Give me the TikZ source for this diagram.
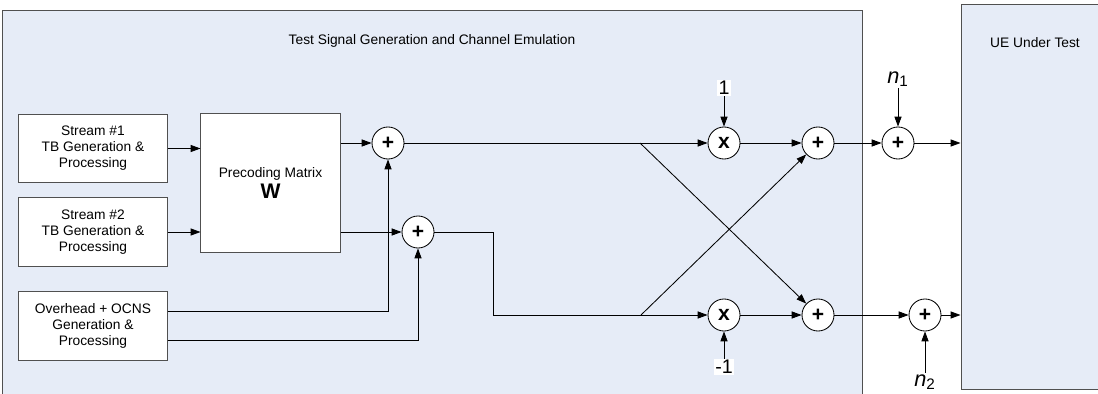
\documentclass[tikz,border=0pt]{standalone}
\usepackage{fontspec}
\setmainfont{Liberation Sans}
\usetikzlibrary{arrows.meta,positioning,calc}
\definecolor{PanelBlue}{HTML}{E6ECF7}
\definecolor{EdgeGray}{HTML}{505050}

\begin{document}
\begin{tikzpicture}[x=0.025cm,y=-0.025cm,
    panel/.style={draw=EdgeGray,line width=0.7pt,fill=PanelBlue},
    blk/.style={draw=EdgeGray,line width=0.7pt,fill=white,align=center,
                font=\fontsize{9.8}{11.3}\selectfont,inner sep=1pt,
                minimum width=3.7cm,minimum height=1.72cm},
    sum/.style={circle,draw=black,line width=0.6pt,fill=white,minimum size=0.8cm,
                inner sep=0pt,font=\fontsize{15}{15}\selectfont\bfseries},
    hdr/.style={font=\fontsize{9.8}{11}\selectfont},
    gain/.style={fill=white,inner sep=1pt,font=\fontsize{14}{15}\selectfont},
    noise/.style={inner sep=1pt,font=\fontsize{15.5}{16}\selectfont},
    arr/.style={-{Triangle[length=7pt,width=5pt]},line width=0.6pt},
  ]
  \useasboundingbox (0,0) rectangle (1098,394);
  \clip (0,0) rectangle (1098,394);
  % Panels
  \node[panel,minimum width=21.475cm,minimum height=9.85cm] (gen) at (432.5,208) {};
  \node[panel,minimum width=3.725cm,minimum height=9.6cm] (ue) at (1035.5,197) {};
  \node[hdr] (gentitle) at (432,41) {Test Signal Generation and Channel Emulation};
  \node[hdr] (uetitle) at (1035,43) {UE Under Test};
  % Sources
  \node[blk] (st1) at (93,148.5) {Stream \#1\\ TB Generation \&\\ Processing};
  \node[blk] (st2) at (93,232) {Stream \#2\\ TB Generation \&\\ Processing};
  \node[blk] (ovh) at (93,326) {Overhead + OCNS\\ Generation \&\\ Processing};
  \node[blk,minimum width=3.475cm,minimum height=3.45cm] (pre) at (270.5,183)
      {Precoding Matrix\\[1pt] {\fontsize{15}{15}\selectfont\bfseries W}};
  % Adders and multipliers
  \node[sum] (s1) at (388,143) {+};
  \node[sum] (s2) at (418,232) {+};
  \node[sum] (m1) at (724,143) {x};
  \node[sum] (m2) at (724,315) {x};
  \node[sum] (s3) at (818,143) {+};
  \node[sum] (s4) at (818,315) {+};
  \node[sum] (s5) at (898,143) {+};
  \node[sum] (s6) at (925,315) {+};
  \node[gain] (g1) at (724,88) {1};
  \node[gain] (g2) at (724,367) {-1};
  \node[noise] (n1) at (898,79) {\textit{n}\textsubscript{1}};
  \node[noise] (n2) at (925,382) {\textit{n}\textsubscript{2}};
  \coordinate (kink) at (493,232);
  \coordinate (xa) at (640,143);
  \coordinate (xb) at (641,315);

  \draw[arr] (st1) -- (st1 -| pre.west);
  \draw[arr] (st2) -- (st2 -| pre.west);
  \draw[arr] (pre.east |- s1) -- (s1);
  \draw[arr] (pre.east |- s2) -- (s2);
  \draw[arr] ($(ovh.east)+(0,-15)$) -| (s1.south);
  \draw[arr] ($(ovh.east)+(0,14)$) -| (s2.south);
  \draw[arr] (s2) -- (kink) |- (m2);
  \draw[arr] (s1) -- (m1);
  \draw[arr] (xa) -- (s4);
  \draw[arr] (xb) -- (s3);
  \draw[arr] (g1) -- (m1);
  \draw[arr] (g2) -- (m2);
  \draw[arr] (m1) -- (s3);
  \draw[arr] (m2) -- (s4);
  \draw[arr] (s3) -- (s5);
  \draw[arr] (s4) -- (s6);
  \draw[arr] (n1) -- (s5);
  \draw[arr] (n2) -- (s6);
  \draw[arr] (s5) -- (s5 -| ue.west);
  \draw[arr] (s6) -- (s6 -| ue.west);
\end{tikzpicture}
\end{document}
